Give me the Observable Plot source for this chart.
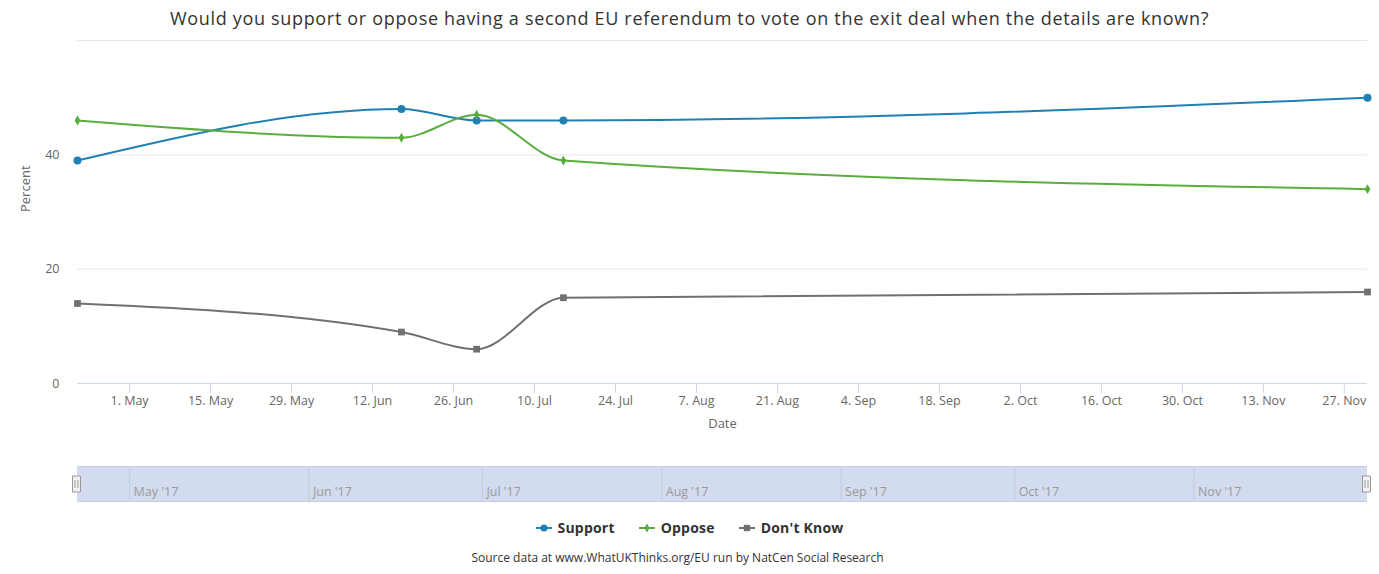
<!DOCTYPE html>
<html><head><meta charset="utf-8">
<script src="https://cdn.jsdelivr.net/npm/d3@7"></script>
<script src="https://cdn.jsdelivr.net/npm/@observablehq/plot@0.6"></script>
<style>
body{margin:0;background:#fff;font-family:"Open Sans",sans-serif;}
#wrap{position:relative;width:1379px;height:574px;overflow:hidden;background:#fff}
.abs{position:absolute;left:0;width:1379px}
#title{top:6px;text-align:center;font-size:18px;letter-spacing:0.68px;line-height:24px;color:#333;}
#main{top:0}
#nav{top:466px}
#legend{top:516px;display:flex;justify-content:center;gap:24px;font-size:14px;font-weight:bold;color:#333;line-height:24px;letter-spacing:0.2px}
#legend .item{display:flex;align-items:center;gap:6px}
#caption{top:548px;left:-12px;text-align:center;font-size:12px;line-height:20px;color:#333}
svg{display:block}
</style>
</head><body>
<div id="wrap">
  <div id="main" class="abs"></div>
  <div id="title" class="abs">Would you support or oppose having a second EU referendum to vote on the exit deal when the details are known?</div>
  <div id="nav" class="abs"></div>
  <div id="legend" class="abs"></div>
  <div id="caption" class="abs">Source data at www.WhatUKThinks.org/EU run by NatCen Social Research</div>
</div>
<script>
// ---- data ----
const dates = ["2017-04-22", "2017-06-17", "2017-06-30", "2017-07-15", "2017-12-01"];
const support = [39, 48, 46, 46, 50];
const oppose = [46, 43, 47, 39, 34];
const dontKnow = [14, 9, 6, 15, 16];
const seriesNames = ["Support", "Oppose", "Don't Know"];
const seriesColors = ["#1f80b3", "#5aac3e", "#707070"];
const seriesSymbols = ["circle", "diamond", "square"];
const seriesMarkerR = [4, 3, 3.8];
const xTicks = ["2017-05-01","2017-05-15","2017-05-29","2017-06-12","2017-06-26","2017-07-10","2017-07-24",
  "2017-08-07","2017-08-21","2017-09-04","2017-09-18","2017-10-02","2017-10-16","2017-10-30","2017-11-13","2017-11-27"];
const yTicks = [0, 20, 40];
const yGrid = [20, 40, 60];
const navMonths = ["2017-05-01","2017-06-01","2017-07-01","2017-08-01","2017-09-01","2017-10-01","2017-11-01"];

// ---- build ----
const parse = d3.utcParse("%Y-%m-%d");
const values = [support, oppose, dontKnow];
const rows = seriesNames.flatMap((name, k) => dates.map((d, i) => ({date: parse(d), value: values[k][i], series: name, r: seriesMarkerR[k]})));
const domainX = [parse(dates[0]), parse(dates[dates.length - 1])];
const colorScale = {domain: seriesNames, range: seriesColors};
const symbolScale = {domain: seriesNames, range: seriesSymbols};

const main = Plot.plot({
  width: 1379, height: 440,
  marginTop: 40, marginBottom: 57, marginLeft: 77, marginRight: 12,
  style: {fontFamily: "Open Sans, sans-serif", fontSize: "12px", color: "#666", background: "transparent"},
  x: {type: "utc", domain: domainX},
  y: {domain: [0, 60]},
  r: {type: "identity"},
  color: colorScale,
  symbol: symbolScale,
  marks: [
    Plot.gridY(yGrid, {stroke: "#e6e6e6", strokeOpacity: 1}),
    Plot.ruleY([0], {stroke: "#ccd6eb"}),
    Plot.axisX(xTicks.map(parse), {tickSize: 10, tickPadding: 3, stroke: "#ccd6eb", fill: "#666",
      tickFormat: d3.utcFormat("%-d. %b"), label: null, fontSize: 12.5}),
    Plot.axisY(yTicks, {tickSize: 0, tickPadding: 18, fill: "#666", label: null, fontSize: 12.5}),
    Plot.text(["Date"], {frameAnchor: "bottom", dy: 44, fill: "#666", fontSize: 13}),
    Plot.text(["Percent"], {frameAnchor: "left", dx: -52, rotate: -90, fill: "#666", fontSize: 13}),
    Plot.line(rows, {x: "date", y: "value", z: "series", stroke: "series", strokeWidth: 2, curve: "monotone-x"}),
    Plot.dot(rows, {x: "date", y: "value", fill: "series", symbol: "series", r: "r"})
  ]
});
document.getElementById("main").appendChild(main);

// navigator
const handleSymbol = {
  draw(ctx, size) {
    ctx.moveTo(-4, -8); ctx.lineTo(4, -8); ctx.lineTo(4, 8); ctx.lineTo(-4, 8); ctx.closePath();
    ctx.moveTo(-1.5, -4); ctx.lineTo(-1.5, 4);
    ctx.moveTo(1.5, -4); ctx.lineTo(1.5, 4);
  }
};
const nav = Plot.plot({
  width: 1379, height: 36,
  marginTop: 0, marginBottom: 1, marginLeft: 77, marginRight: 12,
  style: {fontFamily: "Open Sans, sans-serif", fontSize: "12px", background: "transparent", overflow: "visible"},
  x: {type: "utc", domain: domainX, axis: null},
  y: {domain: [0, 1], axis: null},
  marks: [
    Plot.rect([domainX], {x1: d => d[0], x2: d => d[1], fill: "#d3dbee"}),
    Plot.ruleX(navMonths.map(parse), {stroke: "#c3cbe0"}),
    Plot.ruleY([0, 1], {y: d => d, stroke: "#c6cdda"}),
    Plot.text(navMonths.map(parse), {x: d => d, text: d3.utcFormat("%b '%y"), frameAnchor: "bottom",
      textAnchor: "start", dx: 4, dy: -6, fill: "#999", fontSize: 12.5}),
    Plot.dot(domainX, {x: d => d, frameAnchor: "middle", dx: -1, symbol: handleSymbol, fill: "#f2f2f2", stroke: "#999", strokeWidth: 1})
  ]
});
document.getElementById("nav").appendChild(nav);

// legend
const legend = document.getElementById("legend");
seriesNames.forEach((name, k) => {
  const item = document.createElement("div");
  item.className = "item";
  const sym = d3.symbol(seriesSymbols[k] === "circle" ? d3.symbolCircle : seriesSymbols[k] === "diamond" ? d3.symbolDiamond : d3.symbolSquare, seriesSymbols[k] === "diamond" ? 24 : 40)();
  item.innerHTML = `<svg width="16" height="12"><line x1="0" x2="16" y1="6" y2="6" stroke="${seriesColors[k]}" stroke-width="2"/><path d="${sym}" transform="translate(8,6)" fill="${seriesColors[k]}"/></svg><span>${name}</span>`;
  legend.appendChild(item);
});
</script>
</body></html>
